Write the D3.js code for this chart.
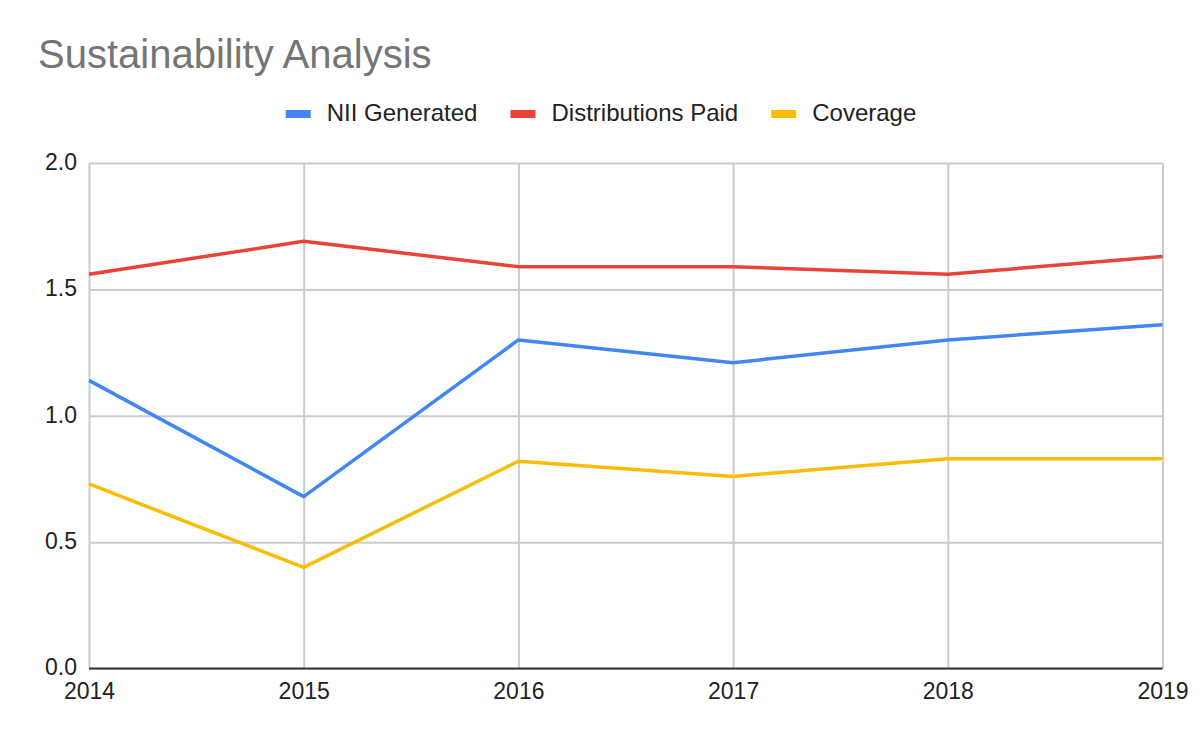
<!DOCTYPE html>
<html>
<head>
<meta charset="utf-8">
<script src="https://cdn.jsdelivr.net/npm/d3@7"></script>
<style>
  body { margin: 0; background: #fff; }
  svg { display: block; font-family: "Liberation Sans", Arial, sans-serif; }
</style>
</head>
<body>
<script>
// data
const years = ["2014", "2015", "2016", "2017", "2018", "2019"]
const niiGenerated = [1.14, 0.68, 1.30, 1.21, 1.30, 1.36]
const distributionsPaid = [1.56, 1.69, 1.59, 1.59, 1.56, 1.63]
const coverage = [0.73, 0.40, 0.82, 0.76, 0.83, 0.83]
const yTicks = [0, 0.5, 1.0, 1.5, 2.0]

const seriesNames = ["NII Generated", "Distributions Paid", "Coverage"]
const seriesValues = [niiGenerated, distributionsPaid, coverage]
const colors = ["#4285f4", "#ea4335", "#fbbc04"]

const w = 1200
const h = 742
const margin = {top: 163, right: 37.5, bottom: 73.5, left: 89}

const svg = d3.select("body")
  .append("svg")
  .attr("width", w)
  .attr("height", h)

const x = d3.scalePoint()
  .domain(years)
  .range([margin.left, w - margin.right])

const y = d3.scaleLinear()
  .domain([0, 2])
  .range([h - margin.bottom, margin.top])

// title
svg.append("text")
  .attr("x", 38)
  .attr("y", 68)
  .attr("font-size", 40)
  .attr("fill", "#757575")
  .text("Sustainability Analysis")

// horizontal grid + y labels
const yAxis = svg.append("g")
  .attr("transform", `translate(${margin.left},0)`)
  .call(d3.axisLeft(y)
    .tickValues(yTicks)
    .tickFormat(d3.format(".1f"))
    .tickSize(-(w - margin.left - margin.right))
    .tickPadding(12))
yAxis.select(".domain").remove()
yAxis.selectAll(".tick line")
  .attr("stroke", "#cccccc")
  .attr("stroke-width", 2)
yAxis.selectAll(".tick text")
  .attr("font-size", 23)
  .attr("fill", "#222")
  .attr("font-family", "Liberation Sans, Arial, sans-serif")
  .attr("dy", "0.28em")

// vertical grid + x labels
const xAxis = svg.append("g")
  .attr("transform", `translate(0,${h - margin.bottom})`)
  .call(d3.axisBottom(x)
    .tickSize(-(h - margin.top - margin.bottom))
    .tickPadding(14))
xAxis.select(".domain").remove()
xAxis.selectAll(".tick line")
  .attr("stroke", "#cccccc")
  .attr("stroke-width", 2)
xAxis.selectAll(".tick text")
  .attr("font-size", 23)
  .attr("fill", "#222")
  .attr("font-family", "Liberation Sans, Arial, sans-serif")

// baseline
svg.append("line")
  .attr("x1", margin.left)
  .attr("x2", w - margin.right)
  .attr("y1", y(0))
  .attr("y2", y(0))
  .attr("stroke", "#333")
  .attr("stroke-width", 2)

const line = d3.line()
  .x((d, i) => x(years[i]))
  .y(d => y(d))

svg.selectAll(".series")
  .data(seriesValues)
  .enter()
  .append("path")
  .attr("class", "series")
  .attr("d", d => line(d))
  .attr("fill", "none")
  .attr("stroke", (d, i) => colors[i])
  .attr("stroke-width", 3.5)
  .attr("stroke-linejoin", "round")

// legend, centred on the page
const legend = svg.append("g")
const items = legend.selectAll("g")
  .data(seriesNames)
  .enter()
  .append("g")
items.append("rect")
  .attr("width", 25)
  .attr("height", 8)
  .attr("y", 110)
  .attr("fill", (d, i) => colors[i])
items.append("text")
  .attr("x", 41)
  .attr("y", 121)
  .attr("font-size", 24)
  .attr("fill", "#222")
  .text(d => d)

let pos = 0
items.each(function () {
  const g = d3.select(this)
  g.attr("transform", `translate(${pos},0)`)
  pos += 41 + g.select("text").node().getComputedTextLength() + 33
})
const total = pos - 33
legend.attr("transform", `translate(${(w - total) / 2 + 1},0)`)
</script>
</body>
</html>
